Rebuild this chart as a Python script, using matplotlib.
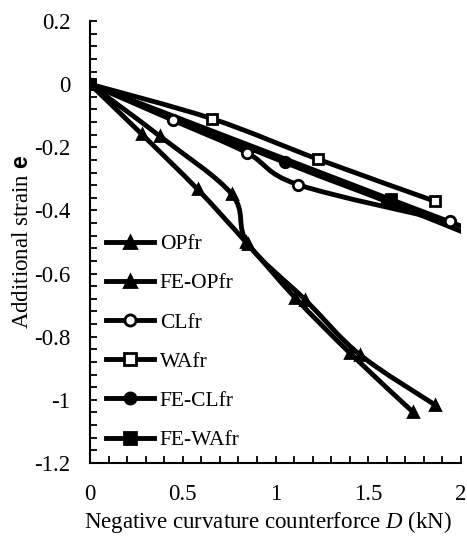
import numpy as np
import matplotlib
matplotlib.use("Agg")
import matplotlib.pyplot as plt
from matplotlib.path import Path
from matplotlib.patches import PathPatch
from matplotlib.lines import Line2D
from matplotlib.ticker import MultipleLocator, FuncFormatter

plt.rcParams['font.family'] = ['Liberation Serif', 'DejaVu Serif']
plt.rcParams['axes.unicode_minus'] = False
plt.rcParams['mathtext.fontset'] = 'custom'
plt.rcParams['mathtext.rm'] = 'Liberation Serif'
plt.rcParams['mathtext.it'] = 'Liberation Serif:italic'
plt.rcParams['mathtext.bf'] = 'Liberation Sans:bold'

# ---- data ----
op_D = [0, 0.377, 0.765, 0.85, 1.16, 1.455, 1.86]
op_e = [0, -0.165, -0.349, -0.505, -0.683, -0.857, -1.016]
feop_D = [0, 0.28, 0.58, 0.84, 1.105, 1.40, 1.74]
feop_e = [0, -0.159, -0.333, -0.50, -0.676, -0.851, -1.038]
cl_D = [0, 0.45, 0.845, 1.12, 1.94]
cl_e = [0, -0.115, -0.217, -0.318, -0.435]
wa_D = [0, 0.66, 1.23, 1.86]
wa_e = [0, -0.11, -0.238, -0.371]
fecl_D = [0, 1.05, 1.6, 2.05]
fecl_e = [0, -0.248, -0.372, -0.478]
fewa_D = [0, 1.62, 2.05]
fewa_e = [0, -0.365, -0.46]

labels = ['OPfr', 'FE-OPfr', 'CLfr', 'WAfr', 'FE-CLfr', 'FE-WAfr']
series = [(op_D, op_e, '^', 'k'), (feop_D, feop_e, '^', 'k'),
          (cl_D, cl_e, 'o', 'w'), (wa_D, wa_e, 's', 'w'),
          (fecl_D, fecl_e, 'o', 'k'), (fewa_D, fewa_e, 's', 'k')]

LW = 3.5
MS = 7.5
MEW = 2.0
FS = 16.5

fig = plt.figure(figsize=(4.67, 5.38), dpi=100)
ax = fig.add_axes([90/467, 1-463/538, (461-90)/467, (463-21)/538])


def smooth_path(x, y):
    x = np.asarray(x, float); y = np.asarray(y, float)
    n = len(x)
    verts = [(x[0], y[0])]
    codes = [Path.MOVETO]
    for i in range(n - 1):
        p0 = i - 1 if i > 0 else i
        p3 = i + 2 if i + 2 < n else i + 1
        c1 = (x[i] + (x[i+1] - x[p0]) / 6, y[i] + (y[i+1] - y[p0]) / 6)
        c2 = (x[i+1] - (x[p3] - x[i]) / 6, y[i+1] - (y[p3] - y[i]) / 6)
        verts += [c1, c2, (x[i+1], y[i+1])]
        codes += [Path.CURVE4] * 3
    return Path(verts, codes)


handles = []
for (D, e, m, fc), lab in zip(series, labels):
    patch = PathPatch(smooth_path(D, e), facecolor='none', edgecolor='k',
                      lw=LW, zorder=2, capstyle='round', joinstyle='round')
    ax.add_patch(patch)
    ax.plot(D, e, linestyle='none', marker=m, ms=MS, mfc=fc, mec='k',
            mew=MEW, zorder=3)
    handles.append(Line2D([], [], color='k', lw=LW, marker=m, ms=MS + 0.5,
                          mfc=fc, mec='k', mew=MEW))

ax.set_xlim(0, 2)
ax.set_ylim(-1.2, 0.2)
ax.xaxis.set_major_locator(MultipleLocator(0.5))
ax.xaxis.set_minor_locator(MultipleLocator(0.1))
ax.yaxis.set_major_locator(MultipleLocator(0.2))
ax.yaxis.set_minor_locator(MultipleLocator(0.04))
fmt = FuncFormatter(lambda v, p: ('%g' % round(v, 3)) if abs(v) > 1e-9 else '0')
ax.xaxis.set_major_formatter(fmt)
ax.yaxis.set_major_formatter(fmt)
for s in ['top', 'right']:
    ax.spines[s].set_visible(False)
for s in ['left', 'bottom']:
    ax.spines[s].set_linewidth(1.5)
ax.tick_params(which='both', direction='in', length=5, width=1.3,
               labelsize=FS)
ax.tick_params(axis='y', pad=14)
ax.tick_params(axis='x', pad=15)

ax.set_xlabel(r'Negative curvature counterforce $\mathit{D}$ (kN)', fontsize=FS,
              labelpad=3)
ax.xaxis.label.set_x((268.5 - 90) / 371)
ax.set_ylabel(r'Additional strain $\mathbf{e}$', fontsize=FS, labelpad=1)

ax.legend(handles, labels, loc='upper left', bbox_to_anchor=(106/467, 1-234/538),
          bbox_transform=fig.transFigure, frameon=False, fontsize=15.5,
          handlelength=2.25, handletextpad=0.25, labelspacing=0.89,
          borderaxespad=0, borderpad=0)

fig.savefig('out.png', dpi=100)
